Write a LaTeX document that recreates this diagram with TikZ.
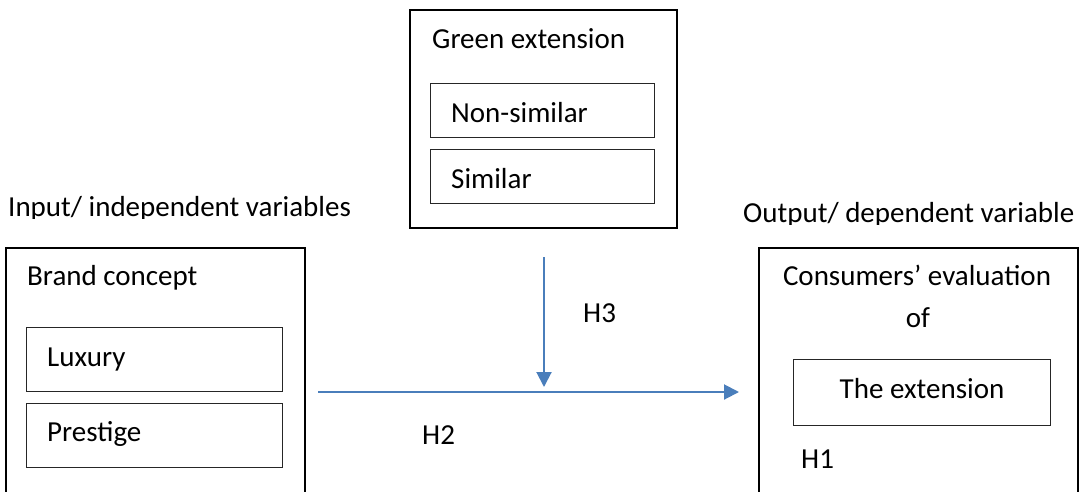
\documentclass[tikz,border=0pt]{standalone}
\usepackage{fontspec}
\setmainfont{Carlito}
\usetikzlibrary{arrows.meta}
\definecolor{arrowblue}{HTML}{4A7EBB}
\begin{document}
\begin{tikzpicture}[x=1pt,y=-1pt,
  outerbox/.style={draw=black, line width=1.8pt, rectangle, inner sep=0pt, anchor=north west},
  innerbox/.style={draw=black!85, line width=1.1pt, rectangle, inner sep=0pt, anchor=north west},
  lbl/.style={font=\fontsize{29}{34}\selectfont, inner sep=0pt, text=black},
  flow/.style={draw=arrowblue, line width=2pt, -{Triangle[length=15pt,width=15pt]}}]
\useasboundingbox (0,0) rectangle (1081,491);
\clip (0,0) rectangle (1081,491);
% outer boxes
\node[outerbox, minimum width=299pt, minimum height=270pt] (brand) at (5,247) {};
\node[outerbox, minimum width=267pt, minimum height=218pt] (green) at (409,9) {};
\node[outerbox, minimum width=319pt, minimum height=270pt] (cons) at (758,247) {};
% inner boxes
\node[innerbox, minimum width=256pt, minimum height=64pt] (lux) at (26,327) {};
\node[innerbox, minimum width=256pt, minimum height=64pt] (pres) at (26,403) {};
\node[innerbox, minimum width=224pt, minimum height=54pt] (nons) at (430,83) {};
\node[innerbox, minimum width=224pt, minimum height=54pt] (sim) at (430,149) {};
\node[innerbox, minimum width=257pt, minimum height=66pt] (ext) at (793,359) {};
% texts
\node[lbl, anchor=base west] (tbrand) at (27,285) {Brand concept};
\node[lbl, anchor=base west] (tlux) at (47,366) {Luxury};
\node[lbl, anchor=base west] (tpres) at (47,441) {Prestige};
\node[lbl, anchor=base west] (tgreen) at (432,48) {Green extension};
\node[lbl, anchor=base west] (tnons) at (451,122) {Non-similar};
\node[lbl, anchor=base west] (tsim) at (451,188) {Similar};
\node[lbl, anchor=base] (tcons) at (917,285) {Consumers’ evaluation};
\node[lbl, anchor=base] (tof) at (918,327) {of};
\node[lbl, anchor=base] (text) at (922,398) {The extension};
\node[lbl, anchor=base west] (h1) at (801,468) {H1};
\node[lbl, anchor=base west] (h3) at (583,322) {H3};
\node[lbl, anchor=base west] (h2) at (422,444) {H2};
\begin{scope}
\clip (0,180) rectangle (400,218);
\node[lbl, anchor=base west] (input) at (8,216) {Input/ independent variables};
\end{scope}
\begin{scope}
\clip (700,180) rectangle (1081,224.5);
\node[lbl, anchor=base west] (output) at (743,222.5) {Output/ dependent variable};
\end{scope}
% connectors
\coordinate (hstart) at (318,392);
\coordinate (hend) at (739,392);
\coordinate (vstart) at (544,257);
\coordinate (vend) at (544,387);
\draw[flow] (hstart) -- (hend);
\draw[flow] (vstart) -- (vend);
\end{tikzpicture}
\end{document}
